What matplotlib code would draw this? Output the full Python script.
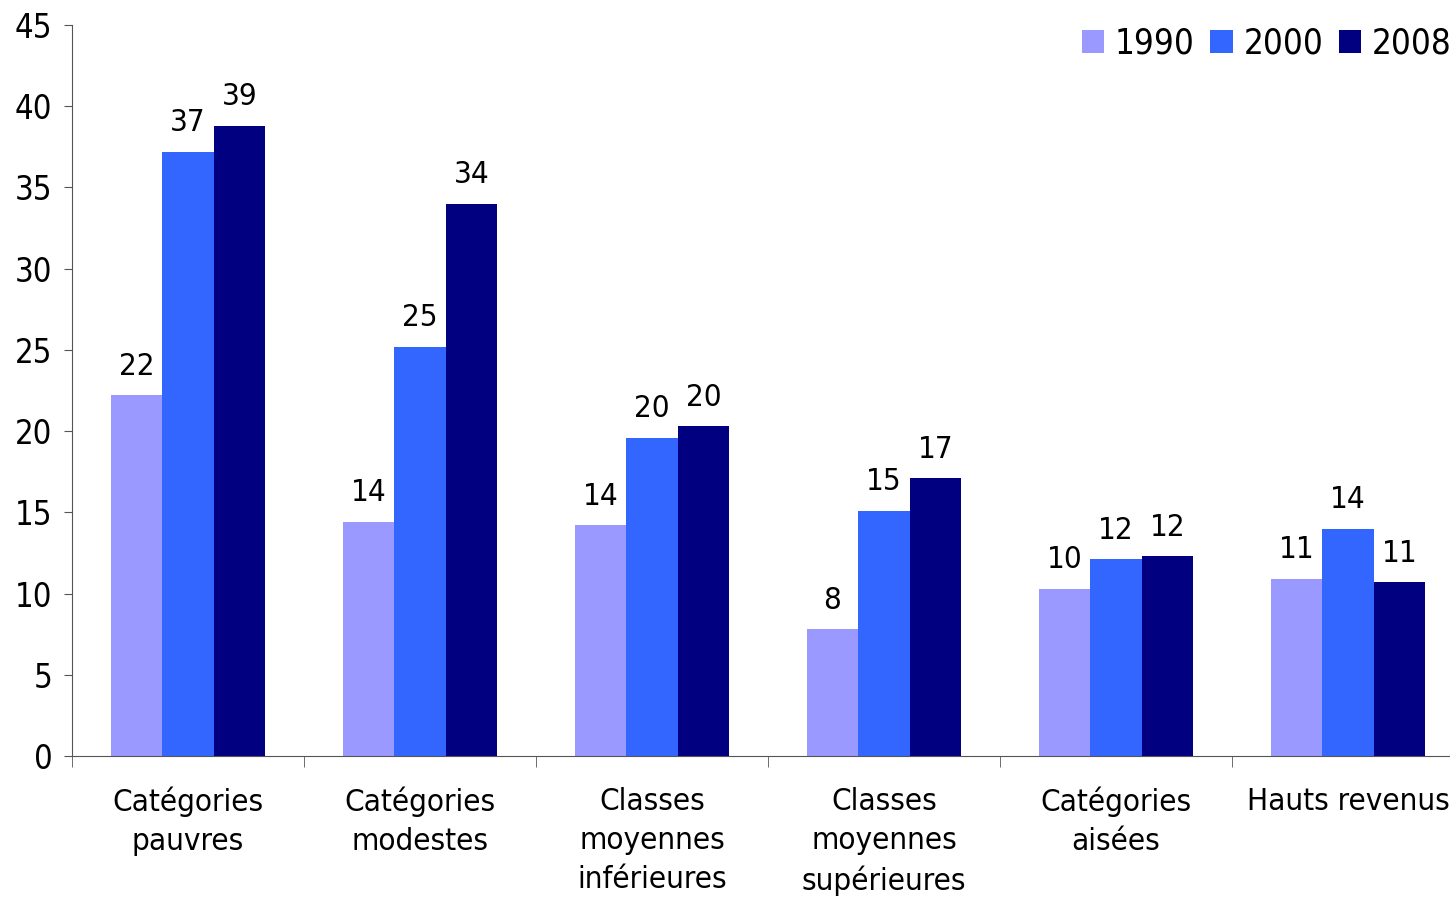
import numpy as np
import matplotlib.pyplot as plt

categories = ["Catégories\npauvres", "Catégories\nmodestes", "Classes\nmoyennes\ninférieures",
              "Classes\nmoyennes\nsupérieures", "Catégories\naisées", "Hauts revenus"]
years = ["1990", "2000", "2008"]
v1990 = [22.2, 14.4, 14.2, 7.8, 10.3, 10.9]
v2000 = [37.2, 25.2, 19.6, 15.1, 12.1, 14.0]
v2008 = [38.8, 34.0, 20.3, 17.1, 12.3, 10.7]
colors = ["#9999FF", "#3366FF", "#000080"]

plt.rcParams['font.family'] = ['DejaVu Sans']
plt.rcParams['font.stretch'] = 'condensed'

fig = plt.figure(figsize=(14.5, 8.97), dpi=100)
ax = fig.add_axes([72/1450, 141/897, (1464-72)/1450, 731/897])

x = np.arange(len(categories))
w = 0.222
for i, (vals, yr) in enumerate(zip([v1990, v2000, v2008], years)):
    bars = ax.bar(x + (i - 1) * w, vals, w, color=colors[i], label=yr)
    ax.bar_label(bars, fmt="%.0f", padding=10.5, fontsize=22.5)

ax.set_xlim(-0.5, 5.5)
ax.set_ylim(0, 45)
ax.set_yticks(range(0, 46, 5))
ax.tick_params(axis='y', labelsize=23.5, length=6, color='#555555', pad=8)
ax.set_xticks(x)
ax.set_xticklabels(categories, fontsize=22.5, linespacing=1.45)
ax.set_xticks(np.arange(-0.5, 6, 1), minor=True)
ax.tick_params(axis='x', which='major', length=0, pad=22)
ax.tick_params(axis='x', which='minor', length=8, color='#555555')
for s in ['top', 'right']:
    ax.spines[s].set_visible(False)
for s in ['left', 'bottom']:
    ax.spines[s].set_color('#555555')

ax.legend(loc='upper left', bbox_to_anchor=(1068/1450, 1 - 13/897), bbox_transform=fig.transFigure,
          ncol=3, frameon=False, fontsize=25, handlelength=0.65, handleheight=0.65,
          handletextpad=0.3, columnspacing=0.45, borderaxespad=0)

fig.savefig("out.png", dpi=100)
